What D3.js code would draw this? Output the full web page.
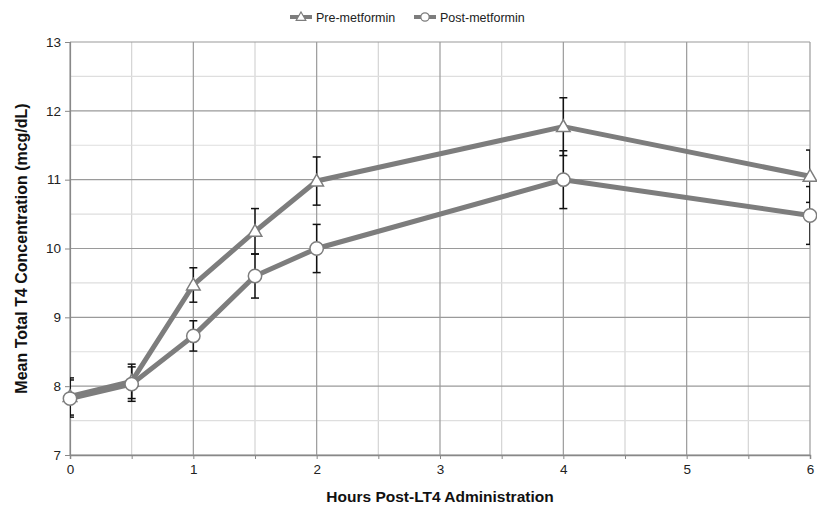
<!DOCTYPE html>
<html>
<head>
<meta charset="utf-8">
<script src="https://cdn.jsdelivr.net/npm/d3@7"></script>
<style>
  body { margin: 0; background: #fff; }
  text { font-family: "Liberation Sans", Arial, sans-serif; }
</style>
</head>
<body>
<div id="chart"></div>
<script>
// Mean total T4 before / after metformin
const hours = [0, 0.5, 1, 1.5, 2, 4, 6];
const preValues = [7.85, 8.07, 9.47, 10.25, 10.98, 11.77, 11.05];
const preErrors = [0.27, 0.25, 0.25, 0.33, 0.35, 0.42, 0.38];
const postValues = [7.82, 8.03, 8.73, 9.6, 10.0, 11.0, 10.48];
const postErrors = [0.27, 0.25, 0.22, 0.32, 0.35, 0.42, 0.42];
const xTicks = [0, 1, 2, 3, 4, 5, 6];
const yTicks = [7, 8, 9, 10, 11, 12, 13];

const series = [
  { name: 'Pre-metformin', symbol: 'triangle', values: preValues, errors: preErrors },
  { name: 'Post-metformin', symbol: 'circle', values: postValues, errors: postErrors },
];

const W = 817, H = 510;
const margin = { left: 70, top: 42, right: 7, bottom: 55 };
const width = W - margin.left - margin.right;
const height = H - margin.top - margin.bottom;

const svg = d3.select('#chart').append('svg')
  .attr('width', W)
  .attr('height', H);
const frame = svg.append('g')
  .attr('transform', `translate(${margin.left} ${margin.top})`);

const x = d3.scaleLinear().domain([0, 6]).range([0, width]);
const y = d3.scaleLinear().domain([7, 13]).range([height, 0]);

// minor grid (every 0.5)
const minorX = d3.range(0.5, 6, 1);
const minorY = d3.range(7.5, 13, 1);
frame.append('g').selectAll('line').data(minorX).enter().append('line')
  .attr('x1', d => x(d)).attr('x2', d => x(d))
  .attr('y1', 0).attr('y2', height)
  .attr('stroke', '#d4d4d4').attr('stroke-width', 1.2);
frame.append('g').selectAll('line').data(minorY).enter().append('line')
  .attr('y1', d => y(d)).attr('y2', d => y(d))
  .attr('x1', 0).attr('x2', width)
  .attr('stroke', '#dedede').attr('stroke-width', 1.2);

// major grid
frame.append('g').selectAll('line').data(xTicks).enter().append('line')
  .attr('x1', d => x(d)).attr('x2', d => x(d))
  .attr('y1', 0).attr('y2', height)
  .attr('stroke', '#9a9a9a').attr('stroke-width', 1.2);
frame.append('g').selectAll('line').data(yTicks).enter().append('line')
  .attr('y1', d => y(d)).attr('y2', d => y(d))
  .attr('x1', 0).attr('x2', width)
  .attr('stroke', '#9a9a9a').attr('stroke-width', 1.2);

// axes
const xAxis = frame.append('g')
  .attr('transform', `translate(0 ${height})`)
  .call(d3.axisBottom(x).tickValues(d3.range(0, 6.01, 0.5)).tickSize(4)
    .tickFormat(d => Number.isInteger(d) ? d : ''));
xAxis.select('.domain').attr('stroke', '#888').attr('stroke-width', 1.5);
xAxis.selectAll('.tick line').attr('stroke', '#888');
xAxis.selectAll('.tick text').attr('font-size', 13.5).attr('fill', '#222').attr('dy', '0.9em');

const yAxis = frame.append('g')
  .call(d3.axisLeft(y).tickValues(yTicks).tickSize(5).tickFormat(d3.format('d')));
yAxis.select('.domain').attr('stroke', '#888').attr('stroke-width', 1.2);
yAxis.selectAll('.tick line').attr('stroke', '#888');
yAxis.selectAll('.tick text').attr('font-size', 13.5).attr('fill', '#222').attr('x', -9);

// axis titles
svg.append('text')
  .attr('x', margin.left + width / 2)
  .attr('y', 502)
  .attr('text-anchor', 'middle')
  .attr('font-size', 15.5).attr('font-weight', 'bold').attr('fill', '#111')
  .text('Hours Post-LT4 Administration');

svg.append('text')
  .attr('transform', `translate(27 ${margin.top + height / 2}) rotate(-90)`)
  .attr('text-anchor', 'middle')
  .attr('font-size', 16).attr('font-weight', 'bold').attr('fill', '#111')
  .text('Mean Total T4 Concentration (mcg/dL)');

// clip for error bars at plot edge
svg.append('defs').append('clipPath').attr('id', 'plot-clip')
  .append('rect').attr('x', 0).attr('y', -20).attr('width', width).attr('height', height + 40);

// error bars
const errG = frame.append('g').attr('clip-path', 'url(#plot-clip)');
series.forEach(s => {
  hours.forEach((h, i) => {
    const hi = s.values[i] + s.errors[i];
    const lo = s.values[i] - s.errors[i];
    errG.append('line')
      .attr('x1', x(h)).attr('x2', x(h))
      .attr('y1', y(hi)).attr('y2', y(lo))
      .attr('stroke', '#111').attr('stroke-width', 1.5);
    [hi, lo].forEach(v => {
      errG.append('line')
        .attr('x1', x(h) - 4).attr('x2', x(h) + 4)
        .attr('y1', y(v)).attr('y2', y(v))
        .attr('stroke', '#111').attr('stroke-width', 1.5);
    });
  });
});

// lines
const line = d3.line().x(d => x(d[0])).y(d => y(d[1]));
series.forEach(s => {
  frame.append('path')
    .datum(hours.map((h, i) => [h, s.values[i]]))
    .attr('fill', 'none')
    .attr('stroke', '#7d7d7d')
    .attr('stroke-width', 5)
    .attr('stroke-linejoin', 'round')
    .attr('d', line);
});

// markers
const symbols = {
  triangle: d3.symbol().type(d3.symbolTriangle).size(80),
  circle: d3.symbol().type(d3.symbolCircle).size(140),
};
series.forEach(s => {
  frame.append('g').selectAll('path')
    .data(hours.map((h, i) => [h, s.values[i]]))
    .enter().append('path')
    .attr('transform', d => `translate(${x(d[0])} ${y(d[1]) + (s.symbol === 'triangle' ? 1 : 0)})`)
    .attr('d', symbols[s.symbol])
    .attr('fill', '#fff')
    .attr('stroke', '#7d7d7d')
    .attr('stroke-width', 1.5);
});

// legend
const legend = svg.append('g').attr('transform', 'translate(0 17)');
const legendX = [290, 414];
series.forEach((s, i) => {
  const g = legend.append('g').attr('transform', `translate(${legendX[i]} 0)`);
  g.append('line').attr('x1', 0).attr('x2', 22).attr('y1', 0).attr('y2', 0)
    .attr('stroke', '#7d7d7d').attr('stroke-width', 4);
  g.append('path')
    .attr('transform', `translate(11 ${s.symbol === 'triangle' ? 0.5 : 0})`)
    .attr('d', d3.symbol().type(s.symbol === 'triangle' ? d3.symbolTriangle : d3.symbolCircle)
      .size(s.symbol === 'triangle' ? 40 : 55))
    .attr('fill', '#fff').attr('stroke', '#7d7d7d').attr('stroke-width', 1.2);
  g.append('text')
    .attr('x', 26).attr('y', 4.5)
    .attr('font-size', 12.5).attr('fill', '#222')
    .text(s.name);
});
</script>
</body>
</html>
